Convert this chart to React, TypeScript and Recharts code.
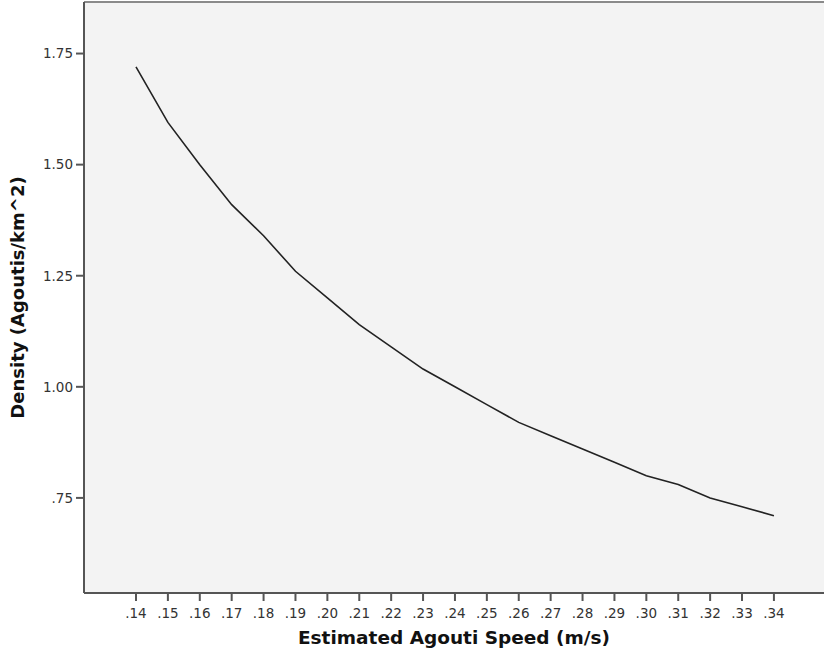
import React from "react";
import {
  LineChart,
  Line,
  XAxis,
  YAxis,
  CartesianGrid,
  ReferenceLine,
} from "recharts";

const speeds = [0.14, 0.15, 0.16, 0.17, 0.18, 0.19, 0.2, 0.21, 0.22, 0.23, 0.24, 0.25, 0.26, 0.27, 0.28, 0.29, 0.3, 0.31, 0.32, 0.33, 0.34];
const densities = [1.72, 1.595, 1.5, 1.41, 1.34, 1.26, 1.2, 1.14, 1.09, 1.04, 1.0, 0.96, 0.92, 0.89, 0.86, 0.83, 0.8, 0.78, 0.75, 0.73, 0.71];
const xTicks = [0.14, 0.15, 0.16, 0.17, 0.18, 0.19, 0.2, 0.21, 0.22, 0.23, 0.24, 0.25, 0.26, 0.27, 0.28, 0.29, 0.3, 0.31, 0.32, 0.33, 0.34];
const yTicks = [0.75, 1.0, 1.25, 1.5, 1.75];

const data = speeds.map((s, i) => ({ speed: s, density: densities[i] }));

const X_DOMAIN: [number, number] = [0.1237, 0.3557];
const Y_DOMAIN: [number, number] = [0.536, 1.866];

const fmt = (v: number) => {
  const s = v.toFixed(2);
  return s.startsWith("0") ? s.slice(1) : s;
};

const FONT = "'DejaVu Sans', sans-serif";

export default function App() {
  return (
    <div style={{ position: "absolute", left: 0, top: 0, width: 825, height: 662, background: "#fff" }}>
      <LineChart
        width={825}
        height={662}
        data={data}
        margin={{ top: 2, right: 1, bottom: 0, left: 0 }}
      >
        <CartesianGrid horizontal={false} vertical={false} fill="#f3f3f3" />
        <ReferenceLine y={Y_DOMAIN[1]} stroke="#8a8a8a" strokeWidth={2} ifOverflow="visible" />
        <XAxis
          dataKey="speed"
          type="number"
          domain={X_DOMAIN}
          ticks={xTicks}
          tickFormatter={fmt}
          allowDataOverflow
          height={69}
          stroke="#555"
          strokeWidth={2}
          tickSize={8}
          tickMargin={7}
          tick={{ fill: "#333", fontSize: 13.5, fontFamily: FONT }}
          interval={0}
          label={{
            value: "Estimated Agouti Speed (m/s)",
            position: "center",
            dy: 10,
            style: { fill: "#111", fontSize: 18.5, fontWeight: "bold", fontFamily: FONT },
          }}
        />
        <YAxis
          type="number"
          domain={Y_DOMAIN}
          ticks={yTicks}
          tickFormatter={fmt}
          allowDataOverflow
          width={84}
          stroke="#555"
          strokeWidth={2}
          tickSize={8}
          tickMargin={3}
          tick={{ fill: "#333", fontSize: 13.5, fontFamily: FONT }}
          label={{
            value: "Density (Agoutis/km^2)",
            angle: -90,
            position: "center",
            dx: -24,
            style: { fill: "#111", fontSize: 18, fontWeight: "bold", fontFamily: FONT, textAnchor: "middle" },
          }}
        />
        <Line
          type="linear"
          dataKey="density"
          stroke="#222"
          strokeWidth={1.6}
          dot={false}
          isAnimationActive={false}
        />
      </LineChart>
    </div>
  );
}
